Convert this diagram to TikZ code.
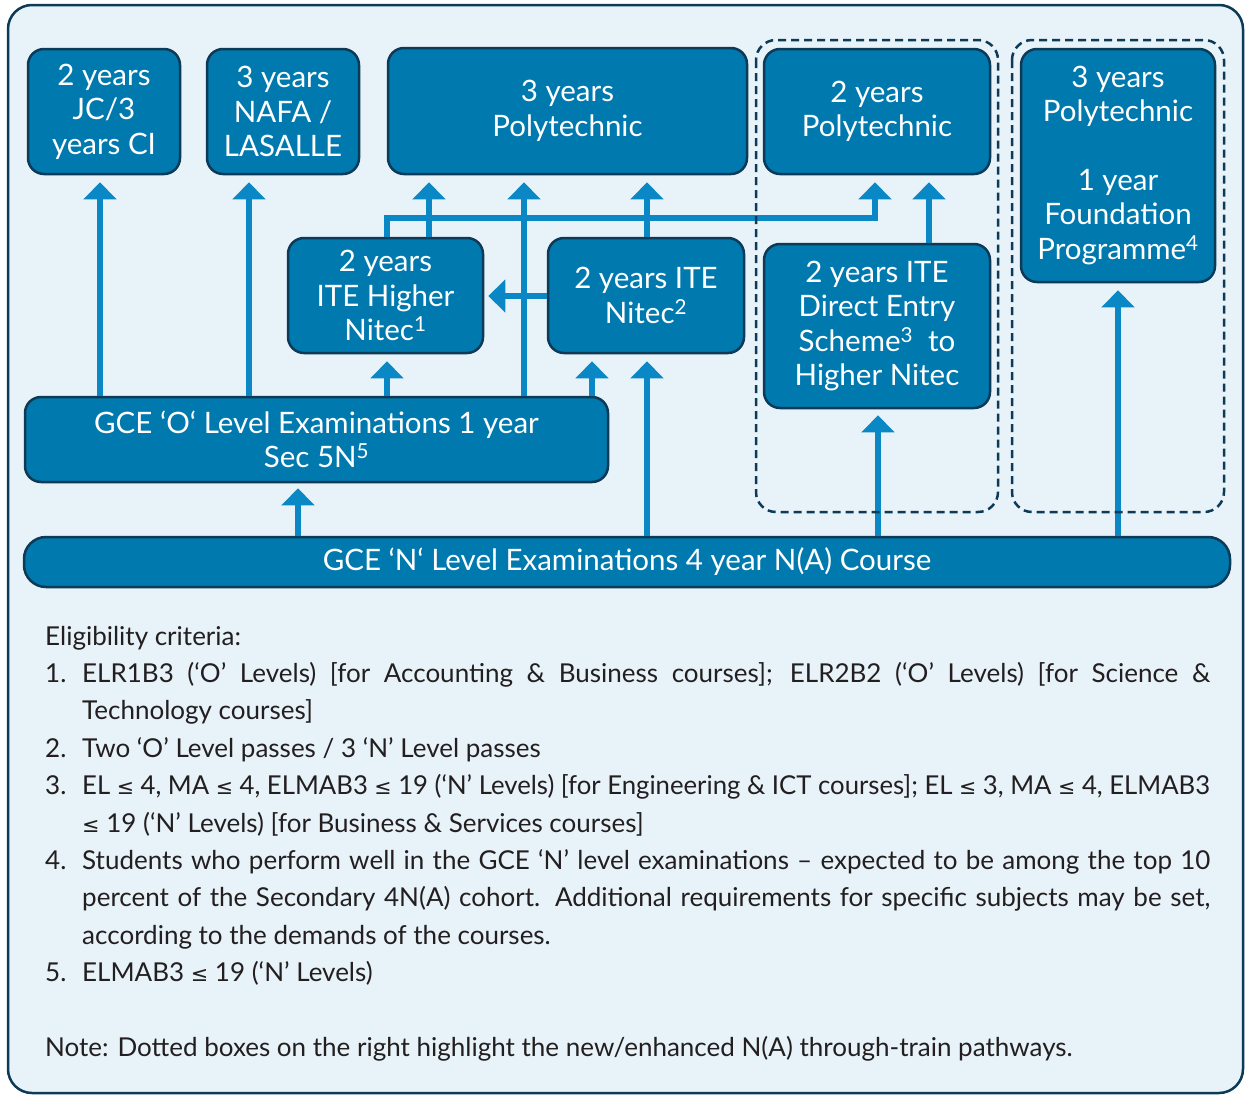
\documentclass[tikz,border=0pt]{standalone}
\usepackage{fontspec}
\setmainfont{Lato}
\newfontfamily\symfont{DejaVu Sans}[Scale=0.8]
\usepackage{graphicx}
\usetikzlibrary{arrows.meta}
\definecolor{bgc}{HTML}{E7F2F9}
\definecolor{boxfill}{HTML}{0079AF}
\definecolor{navy}{HTML}{0C3A57}
\definecolor{arrowc}{HTML}{0A88C5}
\definecolor{textc}{HTML}{231F20}
\newcommand{\lteq}{{\symfont ≤}}
\newcommand{\boxfont}{\fontsize{29.5pt}{34.5pt}\selectfont}
\newcommand{\notefont}{\fontsize{26pt}{37pt}\selectfont}
\newcommand{\jline}[2]{\sbox0{#2}\ifdim\wd0>#1\relax\resizebox{#1}{\height}{#2}\else\makebox[#1][s]{#2}\fi}
\tikzset{
  pbox/.style={draw=navy, line width=2.5pt, fill=boxfill, rounded corners=16pt,
    text=white, align=center, inner sep=0pt, font=\boxfont},
  arr/.style={draw=arrowc, line width=6pt, -{Triangle[width=32pt,length=17pt]}, shorten >=7pt},
  dashbox/.style={draw=navy, line width=2.5pt, dash pattern=on 8pt off 5pt, rounded corners=20pt},
  frame/.style={draw=navy, line width=2.5pt, fill=bgc, rounded corners=24pt},
  note/.style={anchor=base west, inner sep=0pt, font=\notefont, text=textc}
}
\begin{document}
\begin{tikzpicture}[x=1pt, y=-1pt]
\useasboundingbox (0,0) rectangle (1245,1095);
\draw[frame] (8,5) rectangle (1243,1093);

% boxes
\node[pbox, minimum width=152pt, minimum height=125pt] (jc) at (104,111.5) {2 years\\JC/3\\years CI};
\node[pbox, minimum width=152pt, minimum height=125pt] (nafa) at (283,111.5) {3 years\\NAFA /\\LASALLE};
\node[pbox, minimum width=359pt, minimum height=126pt] (poly3) at (567.5,111) {3 years\\Polytechnic};
\node[pbox, minimum width=226pt, minimum height=125pt] (poly2) at (877,111.5) {2 years\\Polytechnic};
\node[pbox, minimum width=194pt, minimum height=233pt] (found) at (1118,165.5) {3 years\\Polytechnic\\[34pt]1 year\\Foundation\\Programme\textsuperscript{4}};
\node[pbox, minimum width=195pt, minimum height=115pt] (hnitec) at (385.5,295.5) {2 years\\ITE Higher\\Nitec\textsuperscript{1}};
\node[pbox, minimum width=196pt, minimum height=115pt] (nitec) at (646,295.5) {2 years ITE\\Nitec\textsuperscript{2}};
\node[pbox, minimum width=226pt, minimum height=164pt] (des) at (877,326) {2 years ITE\\Direct Entry\\Scheme\textsuperscript{3}\ \ to\\Higher Nitec};
\node[pbox, minimum width=583pt, minimum height=85pt] (olevel) at (316.5,439.5) {GCE ‘O‘ Level Examinations 1 year\\Sec 5N\textsuperscript{5}};
\node[pbox, rounded corners=22pt, minimum width=1206pt, minimum height=50pt] (nlevel) at (627,562) {GCE ‘N‘ Level Examinations 4 year N(A) Course};

% column / row coordinates
\coordinate (xA) at (100,0);
\coordinate (xB) at (249,0);
\coordinate (xK) at (387,0);
\coordinate (xJ) at (429,0);
\coordinate (xD) at (524,0);
\coordinate (xE) at (592,0);
\coordinate (xF) at (647,0);
\coordinate (xG) at (298,0);
\coordinate (xL) at (875,0);
\coordinate (xH) at (878,0);
\coordinate (xM) at (929,0);
\coordinate (xI) at (1118,0);
\coordinate (yH) at (0,218);
\coordinate (yN) at (0,296);

% connectors
\draw[arr] (olevel.north -| xA) -- (jc.south -| xA);
\draw[arr] (olevel.north -| xB) -- (nafa.south -| xB);
\draw[arr] (olevel.north -| xK) -- (hnitec.south -| xK);
\draw[arr] (olevel.north -| xD) -- (poly3.south -| xD);
\draw[arr] (olevel.north -| xE) -- (nitec.south -| xE);
\draw[arr, shorten >=5pt] (nlevel.north -| xG) -- (olevel.south -| xG);
\draw[arr] (nlevel.north -| xF) -- (nitec.south -| xF);
\draw[arr, shorten >=6pt] (nlevel.north -| xH) -- (des.south -| xH);
\draw[arr] (nlevel.north -| xI) -- (found.south -| xI);
\draw[arr] (nitec.north -| xF) -- (poly3.south -| xF);
\draw[arr] (hnitec.north -| xJ) -- (poly3.south -| xJ);
\draw[arr] (hnitec.north -| xK) -- (yH -| xK) -- (yH -| xL) -- (poly2.south -| xL);
\draw[arr] (des.north -| xM) -- (poly2.south -| xM);
\draw[arr, shorten >=4pt] (nitec.west |- yN) -- (hnitec.east |- yN);

% dashed groups
\draw[dashbox] (756,40) rectangle (998,512);
\draw[dashbox] (1012,40) rectangle (1224,512);

% notes
\node[note] (t0) at (45,645) {Eligibility criteria:};
\node[note] (n1) at (45,682) {1.};
\node[note] (t1a) at (82,682) {\jline{1128pt}{ELR1B3 (‘O’ Levels) [for Accounting \& Business courses]; ELR2B2 (‘O’ Levels) [for Science \&}};
\node[note] (t1b) at (82,719) {Technology courses]};
\node[note] (n2) at (45,757) {2.};
\node[note] (t2) at (82,757) {Two ‘O’ Level passes / 3 ‘N’ Level passes};
\node[note] (n3) at (45,794) {3.};
\node[note] (t3a) at (82,794) {\jline{1128pt}{EL \lteq{} 4, MA \lteq{} 4, ELMAB3 \lteq{} 19 (‘N’ Levels) [for Engineering \& ICT courses]; EL \lteq{} 3, MA \lteq{} 4, ELMAB3}};
\node[note] (t3b) at (82,832) {\lteq{} 19 (‘N’ Levels) [for Business \& Services courses]};
\node[note] (n4) at (45,869) {4.};
\node[note] (t4a) at (82,869) {\jline{1128pt}{Students who perform well in the GCE ‘N’ level examinations – expected to be among the top 10}};
\node[note] (t4b) at (82,906) {\jline{1128pt}{percent of the Secondary 4N(A) cohort. Additional requirements for specific subjects may be set,}};
\node[note] (t4c) at (82,944) {according to the demands of the courses.};
\node[note] (n5) at (45,981) {5.};
\node[note] (t5) at (82,981) {ELMAB3 \lteq{} 19 (‘N’ Levels)};
\node[note] (t6) at (45,1056) {Note: Dotted boxes on the right highlight the new/enhanced N(A) through-train pathways.};
\end{tikzpicture}
\end{document}
